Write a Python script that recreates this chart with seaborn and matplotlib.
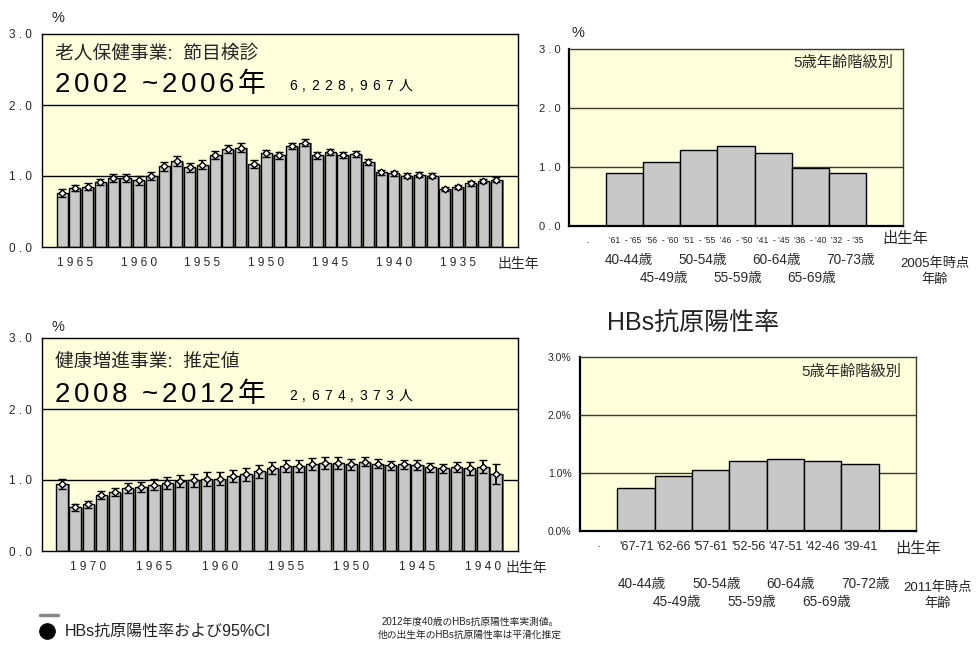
import numpy as np
import pandas as pd
import matplotlib
matplotlib.use("Agg")
import matplotlib.pyplot as plt
import matplotlib.transforms as mtransforms
import matplotlib.patheffects as pe
from matplotlib import font_manager as fm
from matplotlib.ft2font import FT2Font
import seaborn as sns

sns.set_style("white")
FAMILY = ["Liberation Sans", "Noto Sans CJK JP", "DejaVu Sans"]
plt.rcParams["font.family"] = FAMILY

# ---------------- data ----------------
# 老人保健事業 節目検診 2002-2006: birth years 1966 -> 1932
years_0206 = list(range(1966, 1931, -1))
rate_0206 = [0.76, 0.83, 0.85, 0.915, 0.97, 0.97, 0.94, 1.00, 1.14, 1.21,
             1.12, 1.16, 1.30, 1.38, 1.40, 1.17, 1.32, 1.29, 1.42, 1.47,
             1.29, 1.335, 1.30, 1.31, 1.20, 1.05, 1.04, 1.005, 1.02, 1.005,
             0.82, 0.85, 0.895, 0.925, 0.95]
ci_0206 = [0.057, 0.047, 0.052, 0.047, 0.054, 0.06, 0.06, 0.06, 0.064, 0.07,
           0.066, 0.062, 0.057, 0.055, 0.062, 0.052, 0.05, 0.05, 0.045, 0.05,
           0.05, 0.045, 0.04, 0.04, 0.045, 0.033, 0.035, 0.033, 0.033, 0.035,
           0.03, 0.03, 0.03, 0.03, 0.035]

# 健康増進事業 推定値 2008-2012: birth years 1972 -> 1939
years_0812 = list(range(1972, 1938, -1))
rate_0812 = [0.95, 0.615, 0.655, 0.79, 0.83, 0.885, 0.905, 0.935, 0.96, 0.985,
             0.995, 1.015, 1.02, 1.05, 1.08, 1.12, 1.17, 1.20, 1.20, 1.226,
             1.24, 1.24, 1.22, 1.255, 1.23, 1.21, 1.22, 1.217, 1.18, 1.165,
             1.18, 1.165, 1.19, 1.09]
ci_0812 = [0.07, 0.052, 0.052, 0.055, 0.052, 0.07, 0.07, 0.076, 0.08, 0.088,
           0.088, 0.095, 0.093, 0.085, 0.09, 0.085, 0.08, 0.088, 0.088, 0.088,
           0.085, 0.085, 0.076, 0.064, 0.066, 0.064, 0.066, 0.07, 0.066, 0.06,
           0.07, 0.09, 0.09, 0.14]

# 5-year age groups
groups_2005 = ["'61 -'65", "'56 -'60", "'51 -'55", "'46 -'50", "'41 -'45", "'36 -'40", "'32 -'35"]
rate_2005 = [0.89, 1.08, 1.28, 1.36, 1.23, 0.98, 0.90]
ages_2005 = ["40-44歳", "45-49歳", "50-54歳", "55-59歳", "60-64歳", "65-69歳", "70-73歳"]

groups_2011 = ["'67-71", "'62-66", "'57-61", "'52-56", "'47-51", "'42-46", "'39-41"]
rate_2011 = [0.74, 0.95, 1.055, 1.21, 1.235, 1.20, 1.16]
ages_2011 = ["40-44歳", "45-49歳", "50-54歳", "55-59歳", "60-64歳", "65-69歳", "70-72歳"]

yticks = [0.0, 1.0, 2.0, 3.0]

# ---------------- figure helpers ----------------
W, H = 977, 646
fig = plt.figure(figsize=(W / 100, H / 100), dpi=100)

BG = "#FFFFDC"
BAR = "#C8C8C8"
SHADOW = [pe.SimplePatchShadow(offset=(1.5, -0.5), shadow_rgbFace="#7d7d66",
                               alpha=1.0), pe.Normal()]


def px_axes(l, t, r, b):
    return fig.add_axes([l / W, 1 - b / H, (r - l) / W, (b - t) / H])


LAT = fm.findfont(fm.FontProperties(family="Liberation Sans"))
CJK = fm.findfont(fm.FontProperties(family="Noto Sans CJK JP"))
_fonts = [FT2Font(LAT), FT2Font(CJK)]


def advance(ch, size_px):
    for f in _fonts:
        if f.get_char_index(ord(ch)):
            f.set_size(size_px, 72)
            g = f.load_char(ord(ch))
            return g.linearHoriAdvance / 65536.0
    return size_px * 0.5


def tracked(x, y, s, size_pt, track_px, color="black"):
    """Letter-spaced text, x/y in figure pixels (y from top, baseline)."""
    size_px = size_pt * 100 / 72
    for ch in s:
        if ch != " ":
            fig.text(x / W, 1 - y / H, ch, fontsize=size_pt, ha="left",
                     va="baseline", color=color)
        x += advance(ch, size_px) + track_px


def ftext(x, y, s, size, ha="left", va="center", **kw):
    fig.text(x / W, 1 - y / H, s, fontsize=size, ha=ha, va=va, **kw)


def spaced(s):
    return " ".join(s)


def style_frame(ax, color, lw):
    for sp in ax.spines.values():
        sp.set_visible(True)
        sp.set_color(color)
        sp.set_linewidth(lw)


# ---------------- cohort panels (left) ----------------
def cohort_panel(box, years, rate, ci, xlim):
    ax = px_axes(*box)
    df = pd.DataFrame({"year": [str(y) for y in years], "rate": rate})
    order = [str(y) for y in years]
    sns.barplot(data=df, x="year", y="rate", order=order, color=BAR,
                edgecolor="black", linewidth=1.0, width=0.86, errorbar=None,
                saturation=1, ax=ax, zorder=2)
    for p in ax.patches:
        p.set_path_effects(SHADOW)
    pos = np.arange(len(years))
    ax.errorbar(pos, rate, yerr=ci, fmt="D", mfc="white", mec="black",
                mew=1.0, ms=3.5, ecolor="black", elinewidth=1.3, capsize=2.6,
                capthick=1.3, zorder=4)
    ax.set_facecolor(BG)
    ax.set_xlim(*xlim)
    ax.set_ylim(0, 3)
    for v in (1.0, 2.0):
        ax.axhline(v, color="black", lw=1.0, zorder=1)
    tick_pos = [i for i, y in enumerate(years) if y % 5 == 0]
    ax.set_xticks(tick_pos)
    ax.set_xticklabels([spaced(str(years[i])) for i in tick_pos], fontsize=8.5)
    ax.set_yticks(yticks)
    ax.set_yticklabels([spaced(f"{v:.1f}") for v in yticks], fontsize=8.5)
    ax.tick_params(axis="both", direction="out", length=4, width=1,
                   color="black", pad=3)
    ax.set_xlabel("")
    ax.set_ylabel("")
    style_frame(ax, "black", 1.0)
    return ax


cohort_panel((42, 34, 518, 247), years_0206, rate_0206, ci_0206, (-1.57, 35.72))
cohort_panel((42, 338, 518, 551), years_0812, rate_0812, ci_0812, (-1.52, 34.67))

# panel annotations
ftext(52, 18, "%", 10.5)
ftext(52, 327, "%", 10.5)
ftext(55, 54, "老人保健事業:  節目検診", 13.5)
tracked(55, 92, "2002 ~2006年", 20, 3.5)
tracked(289, 90, "6,228,967人", 10, 5.3)
ftext(55, 363, "健康増進事業:  推定値", 13.5)
tracked(55, 402, "2008 ~2012年", 20, 3.5)
tracked(289, 400, "2,674,373人", 10, 5.3)
ftext(497, 264, "出生年", 10)
ftext(505, 568, "出生年", 10)


# ---------------- age-group panels (right) ----------------
def group_panel(box, groups, rate, first_label, ytick_fmt, ytick_size,
                xtick_fmt, xtick_size, minor_y):
    ax = px_axes(*box)
    slots = [first_label] + groups + [""]
    df = pd.DataFrame({"grp": groups, "rate": rate})
    sns.barplot(data=df, x="grp", y="rate", order=slots, color=BAR,
                edgecolor="black", linewidth=1.0, width=1.0, errorbar=None,
                saturation=1, ax=ax, zorder=2)
    ax.set_facecolor(BG)
    ax.set_xlim(-0.5, len(slots) - 0.5)
    ax.set_ylim(0, 3)
    for v in (1.0, 2.0):
        ax.axhline(v, color="#3c3c2c", lw=1.0, zorder=1)
    ax.set_xticks(range(len(slots)))
    ax.set_xticklabels([xtick_fmt(s) for s in slots], fontsize=xtick_size)
    ax.set_xticks(np.arange(-0.5, len(slots)), minor=True)
    ax.tick_params(axis="x", which="major", length=0, pad=7)
    ax.tick_params(axis="x", which="minor", direction="out", length=4,
                   width=1, color="black")
    ax.set_yticks(yticks)
    ax.set_yticklabels([ytick_fmt(v) for v in yticks], fontsize=ytick_size)
    ax.tick_params(axis="y", which="major", direction="out", length=4,
                   width=1, color="black", pad=2)
    if minor_y:
        ax.set_yticks(np.arange(0, 3.01, 0.2), minor=True)
        ax.tick_params(axis="y", which="minor", direction="out", length=3,
                       width=1, color="black")
    ax.set_xlabel("")
    ax.set_ylabel("")
    style_frame(ax, "#3c3c2c", 1.0)
    ax.spines["left"].set_color("black")
    ax.spines["bottom"].set_color("black")
    ax.spines["left"].set_linewidth(1.6)
    ax.spines["bottom"].set_linewidth(1.6)
    trans = mtransforms.blended_transform_factory(ax.transData, fig.transFigure)
    return ax, trans


ax_tr, tr_tr = group_panel((569, 49, 903, 226), groups_2005, rate_2005,
                           ".", lambda v: spaced(f"{v:.1f}"), 8,
                           lambda s: s.replace("'", " '").strip().replace(" -", "  -"),
                           6.2, False)
ax_br, tr_br = group_panel((580, 357, 916, 531), groups_2011, rate_2011,
                           "·", lambda v: f"{v:.1f}%", 7.5,
                           lambda s: s, 9, True)

# age labels in two staggered rows
for i, a in enumerate(ages_2005):
    yy = 260 if i % 2 == 0 else 278
    ax_tr.text(i + 1 + (0.1 if i % 2 == 0 else 0.05), 1 - yy / H, a,
               transform=tr_tr, fontsize=9.8, ha="center", va="center",
               color="#2a2a2a")
for i, a in enumerate(ages_2011):
    yy = 584 if i % 2 == 0 else 602
    ax_br.text(i + 1 + (0.15 if i % 2 == 0 else 0.1), 1 - yy / H, a,
               transform=tr_br, fontsize=9.8, ha="center", va="center",
               color="#2a2a2a")

ftext(572, 33, "%", 10.5)
ftext(893, 63, "5歳年齢階級別", 11, ha="right")
ftext(901, 372, "5歳年齢階級別", 11, ha="right")
ftext(882, 239, "出生年", 11)
ftext(895, 549, "出生年", 11)
ftext(935, 264, "2005年時点", 9.5, ha="center", color="#222222")
ftext(935, 280, "年齢", 9.5, ha="center", color="#222222")
ftext(938, 588, "2011年時点", 9.5, ha="center", color="#222222")
ftext(938, 604, "年齢", 9.5, ha="center", color="#222222")

ftext(693, 323, "HBs抗原陽性率", 18, ha="center", color="#222222")

# ---------------- legend & note ----------------
fig.add_artist(plt.Line2D([40 / W, 58 / W], [1 - 615 / H, 1 - 615 / H],
                          color="#888888", lw=2.5))
fig.add_artist(plt.Line2D([47 / W], [1 - 631 / H], marker="o", ms=11,
                          color="black", lw=0))
ftext(65, 631, "HBs抗原陽性率および95%CI", 11.5, color="#222222")
ftext(470, 622, "2012年度40歳のHBs抗原陽性率実測値。", 7, ha="center",
      color="#222222")
ftext(470, 635, "他の出生年のHBs抗原陽性率は平滑化推定", 7, ha="center",
      color="#222222")

fig.savefig("out.png", dpi=100, facecolor="white")
